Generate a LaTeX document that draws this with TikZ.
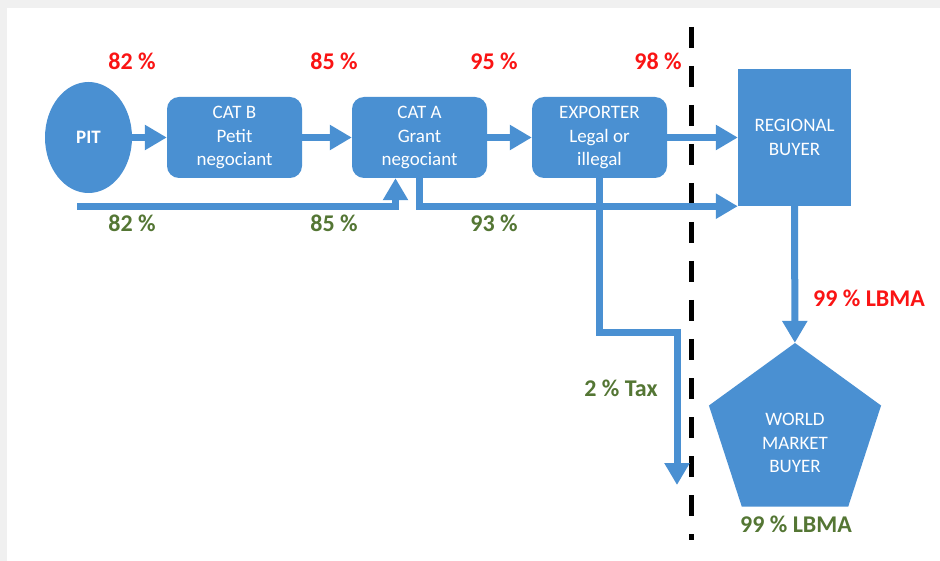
\documentclass[tikz,border=0pt]{standalone}
\usepackage{fontspec}
\setmainfont{Carlito}
\usetikzlibrary{arrows.meta,shapes.geometric}
\definecolor{flowblue}{RGB}{74,144,210}
\definecolor{pctred}{RGB}{250,20,20}
\definecolor{pctgreen}{RGB}{84,118,52}
\definecolor{pagegrey}{RGB}{240,240,240}

\begin{document}
\begin{tikzpicture}[x=1pt,y=-1pt,
  actor/.style={fill=flowblue,text=white,align=center,inner sep=0pt,
    font=\fontsize{19}{23.5}\selectfont},
  tradebox/.style={actor,minimum width=135pt,minimum height=81pt,rounded corners=12pt},
  flow/.style={draw=flowblue,line width=7pt,-{Triangle[length=22pt,width=24pt]}},
  redpct/.style={anchor=base,text=pctred,font=\fontsize{24}{28}\selectfont\bfseries},
  greenpct/.style={anchor=base,text=pctgreen,font=\fontsize{24}{28}\selectfont\bfseries}]
\useasboundingbox (0,0) rectangle (940,561);
\fill[pagegrey] (0,0) rectangle (940,561);
\fill[white] (7,8) rectangle (940,561);
% actors
\node[actor,ellipse,minimum width=87pt,minimum height=111pt,font=\fontsize{19}{23.5}\selectfont\bfseries] (pit) at (88.5,137.5) {PIT};
\node[tradebox] (catb) at (234.5,137.5) {CAT B\\Petit\\negociant};
\node[tradebox] (cata) at (419.5,137.5) {CAT A\\Grant\\negociant};
\node[tradebox] (exp) at (599.5,137.5) {EXPORTER\\Legal or\\illegal};
\node[actor,minimum width=113pt,minimum height=137pt] (regional) at (794.5,137.5) {REGIONAL\\BUYER};
\node[actor,regular polygon,regular polygon sides=5,minimum size=181pt] (world) at (795,433.5) {\rule{0pt}{32pt}WORLD\\MARKET\\BUYER};
% border line
\coordinate (bordertop) at (691,27);
\coordinate (borderbot) at (691,540);
\draw[black,line width=5pt,dash pattern=on 21pt off 18pt] (bordertop) -- (borderbot);
% flows
\draw[flow] (pit) -- (catb);
\draw[flow] (catb) -- (cata);
\draw[flow] (cata) -- (exp);
\draw[flow] (exp) -- (regional);
\coordinate (lowstart) at (77,207);
\draw[flow] (lowstart) -| ([xshift=-24pt]cata.south);
\draw[flow] (cata.south) |- (regional.south west);
\coordinate (taxend) at (677,485);
\draw[flow] (exp.south) -- ++(0,154) -| (taxend);
\draw[flow] (regional) -- (world);
% percentages
\node[redpct] (r82) at (132,70) {82 \%};
\node[redpct] (r85) at (334,70) {85 \%};
\node[redpct] (r95) at (494,70) {95 \%};
\node[redpct] (r98) at (658,70) {98 \%};
\node[greenpct] (g82) at (132,232) {82 \%};
\node[greenpct] (g85) at (334,232) {85 \%};
\node[greenpct] (g93) at (494,232) {93 \%};
\node[greenpct] (tax) at (621,396) {2 \% Tax};
\node[redpct] (rlbma) at (869,307) {99 \% LBMA};
\node[greenpct] (glbma) at (796,532) {99 \% LBMA};
\end{tikzpicture}
\end{document}
